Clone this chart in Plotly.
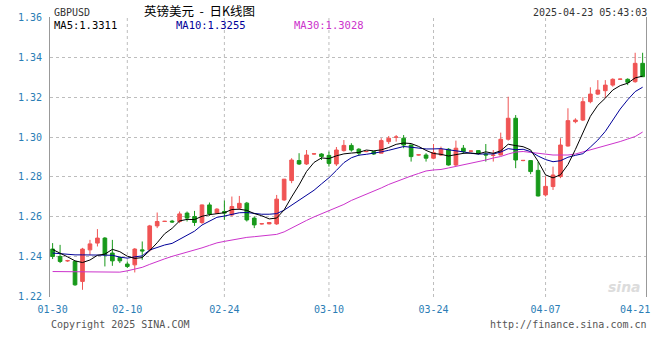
import plotly.graph_objects as go

# ---------------- data ----------------
opens = [1.2439, 1.2402, 1.2380, 1.2377, 1.2277, 1.2435, 1.2469, 1.2494, 1.2419, 1.2397,
         1.2364, 1.2360, 1.2435, 1.2435, 1.2555, 1.2577, 1.2579, 1.2577, 1.2619, 1.2602,
         1.2572, 1.2660, 1.2619, 1.2627, 1.2610, 1.2644, 1.2669, 1.2594, 1.2565, 1.2565,
         1.2565, 1.2685, 1.2782, 1.2882, 1.2865, 1.2915, 1.2915, 1.2908, 1.2865, 1.2932,
         1.2958, 1.2939, 1.2927, 1.2927, 1.2919, 1.2977, 1.2999, 1.2994, 1.2960, 1.2910,
         1.2910, 1.2894, 1.2910, 1.2939, 1.2860, 1.2944, 1.2929, 1.2932, 1.2915, 1.2908,
         1.2910, 1.2989, 1.3094, 1.2882, 1.2882, 1.2833, 1.2710, 1.2752, 1.2802, 1.2955,
         1.3077, 1.3085, 1.3177, 1.3215, 1.3232, 1.3260, 1.3289, 1.3289, 1.3277, 1.3369]
highs = [1.2469, 1.2460, 1.2385, 1.2380, 1.2445, 1.2485, 1.2539, 1.2499, 1.2485, 1.2402,
         1.2377, 1.2444, 1.2477, 1.2560, 1.2622, 1.2580, 1.2585, 1.2627, 1.2627, 1.2630,
         1.2662, 1.2672, 1.2644, 1.2682, 1.2702, 1.2705, 1.2675, 1.2602, 1.2568, 1.2574,
         1.2710, 1.2790, 1.2894, 1.2919, 1.2935, 1.2918, 1.2919, 1.2927, 1.2950, 1.2985,
         1.2969, 1.2944, 1.2930, 1.2930, 1.2994, 1.3005, 1.3010, 1.3010, 1.2962, 1.2913,
         1.2919, 1.2965, 1.2952, 1.2944, 1.2982, 1.2960, 1.2932, 1.2935, 1.2965, 1.2935,
         1.3022, 1.3202, 1.3110, 1.2885, 1.2885, 1.2877, 1.2803, 1.2852, 1.2994, 1.3144,
         1.3094, 1.3199, 1.3249, 1.3285, 1.3285, 1.3294, 1.3292, 1.3294, 1.3422, 1.3422]
lows = [1.2389, 1.2369, 1.2375, 1.2255, 1.2235, 1.2410, 1.2452, 1.2352, 1.2355, 1.2369,
        1.2344, 1.2322, 1.2385, 1.2427, 1.2544, 1.2575, 1.2570, 1.2569, 1.2577, 1.2555,
        1.2565, 1.2605, 1.2615, 1.2585, 1.2602, 1.2635, 1.2577, 1.2544, 1.2562, 1.2563,
        1.2560, 1.2680, 1.2769, 1.2860, 1.2860, 1.2912, 1.2885, 1.2852, 1.2855, 1.2927,
        1.2927, 1.2905, 1.2924, 1.2910, 1.2919, 1.2965, 1.2977, 1.2944, 1.2877, 1.2907,
        1.2877, 1.2889, 1.2905, 1.2857, 1.2855, 1.2915, 1.2926, 1.2912, 1.2877, 1.2877,
        1.2908, 1.2982, 1.2844, 1.2879, 1.2814, 1.2702, 1.2702, 1.2735, 1.2794, 1.2952,
        1.3069, 1.3080, 1.3169, 1.3210, 1.3194, 1.3252, 1.3286, 1.3260, 1.3272, 1.3302]
closes = [1.2402, 1.2377, 1.2381, 1.2260, 1.2439, 1.2465, 1.2494, 1.2410, 1.2380, 1.2380,
          1.2352, 1.2439, 1.2430, 1.2555, 1.2577, 1.2578, 1.2575, 1.2615, 1.2594, 1.2572,
          1.2660, 1.2615, 1.2639, 1.2619, 1.2652, 1.2668, 1.2585, 1.2560, 1.2566, 1.2572,
          1.2689, 1.2789, 1.2885, 1.2865, 1.2910, 1.2916, 1.2902, 1.2868, 1.2935, 1.2958,
          1.2935, 1.2919, 1.2928, 1.2915, 1.2982, 1.2994, 1.3000, 1.2960, 1.2902, 1.2911,
          1.2894, 1.2922, 1.2939, 1.2860, 1.2944, 1.2927, 1.2930, 1.2919, 1.2910, 1.2909,
          1.2989, 1.3094, 1.2885, 1.2883, 1.2827, 1.2705, 1.2753, 1.2810, 1.2960, 1.3082,
          1.3085, 1.3177, 1.3215, 1.3235, 1.3260, 1.3289, 1.3290, 1.3274, 1.3369, 1.3302]

ma5 = [1.2437, 1.2420, 1.2400, 1.2380, 1.23716, 1.23842, 1.24076, 1.24136, 1.24376, 1.24258,
       1.24032, 1.23922, 1.23962, 1.24312, 1.24706, 1.25156, 1.25428, 1.25798, 1.25876, 1.25866,
       1.26032, 1.26112, 1.2616, 1.2621, 1.2637, 1.26386, 1.26326, 1.26168, 1.2606, 1.2590,
       1.25942, 1.2635, 1.2700, 1.2760, 1.28276, 1.28728, 1.28954, 1.2892, 1.2906, 1.29156,
       1.29196, 1.2923, 1.29348, 1.29308, 1.29356, 1.29474, 1.29634, 1.2970, 1.29674, 1.2953,
       1.2933, 1.29176, 1.29134, 1.2905, 1.29118, 1.29184, 1.29198, 1.29158, 1.29258, 1.29186,
       1.2931, 1.2964, 1.29572, 1.29516, 1.29354, 1.28786, 1.28104, 1.27954, 1.2811, 1.2862,
       1.2938, 1.30228, 1.31038, 1.31588, 1.31944, 1.32352, 1.32576, 1.32694, 1.32962, 1.33046]
ma10 = [1.2419, 1.2415, 1.2413, 1.2410, 1.2410, 1.2410, 1.2410, 1.2410, 1.2408, 1.23987,
        1.23937, 1.23999, 1.24049, 1.24344, 1.24482, 1.24594, 1.24675, 1.2488, 1.25094, 1.25286,
        1.25594, 1.2577, 1.25979, 1.26043, 1.26118, 1.26209, 1.26219, 1.26164, 1.26135, 1.26135,
        1.26164, 1.26338, 1.26584, 1.2683, 1.27088, 1.27335, 1.27652, 1.2796, 1.2833, 1.28716,
        1.28962, 1.29092, 1.29134, 1.29184, 1.29256, 1.29335, 1.29432, 1.29524, 1.29491, 1.29443,
        1.29402, 1.29405, 1.29417, 1.29362, 1.29324, 1.29257, 1.29187, 1.29146, 1.29154, 1.29152,
        1.29247, 1.29419, 1.29365, 1.29387, 1.2927, 1.29048, 1.28872, 1.28763, 1.28813, 1.28987,
        1.29083, 1.29166, 1.29496, 1.29849, 1.30282, 1.30866, 1.31402, 1.31866, 1.32275, 1.32495]
ma30 = [1.23265, 1.2326, 1.2325, 1.2324, 1.2323, 1.23225, 1.2322, 1.23215, 1.2322, 1.23235,
        1.2330, 1.23375, 1.23475, 1.23625, 1.23775, 1.2390, 1.24025, 1.24125, 1.24225, 1.24325,
        1.2445, 1.24575, 1.2470, 1.24775, 1.2485, 1.24925, 1.24975, 1.2501, 1.2504, 1.25075,
        1.25125, 1.2525, 1.2545, 1.2565, 1.25825, 1.2600, 1.2615, 1.2630, 1.2645, 1.26625,
        1.26825, 1.26975, 1.27125, 1.2730, 1.2745, 1.27625, 1.27775, 1.27925, 1.2805, 1.28175,
        1.2830, 1.2835, 1.28375, 1.2845, 1.28525, 1.2860, 1.28675, 1.2875, 1.2885, 1.2895,
        1.29025, 1.2915, 1.2925, 1.29275, 1.29225, 1.29175, 1.29125, 1.2910, 1.2910, 1.2910,
        1.2915, 1.2925, 1.29375, 1.29475, 1.29575, 1.29675, 1.29775, 1.2990, 1.30025, 1.3025]

tick_idx = [0, 10, 23, 37, 51, 66, 78]
tick_labels = ["01-30", "02-10", "02-24", "03-10", "03-24", "04-07", "04-21"]
y_ticks = [1.22, 1.24, 1.26, 1.28, 1.30, 1.32, 1.34, 1.36]

title_cn = "英镑美元\u00a0\u00a0-\u00a0\u00a0日K线图"
symbol = "GBPUSD"
stamp = "2025-04-23 05:43:03"
legend_ma = [("MA5:1.3311", "#000000"), ("MA10:1.3255", "#000099"), ("MA30:1.3028", "#cc33cc")]

# ---------------- figure ----------------
RED = "#f05454"
GREEN = "#17991a"
MONO = "DejaVu Sans Mono"
AXC = "#2a7db5"

xs = list(range(len(closes)))

fig = go.Figure()
fig.add_trace(go.Candlestick(
    x=xs, open=opens, high=highs, low=lows, close=closes,
    increasing=dict(line=dict(color=RED, width=1), fillcolor=RED),
    decreasing=dict(line=dict(color=GREEN, width=1), fillcolor=GREEN),
    whiskerwidth=0, hoverinfo="skip", showlegend=False))
for vals, col in [(ma30, "#cc33cc"), (ma10, "#000099"), (ma5, "#000000")]:
    fig.add_trace(go.Scatter(x=xs, y=vals, mode="lines",
                             line=dict(color=col, width=1), hoverinfo="skip",
                             showlegend=False))

L, R, T, B = 50, 650, 17, 297
W, H = 660, 360


def px(xp):
    return (xp - L) / (R - L)


def py(yp):
    return (B - yp) / (B - T)


shapes = []
for t in tick_idx[1:-1]:
    shapes.append(dict(type="line", xref="x", yref="paper", x0=t, x1=t, y0=0, y1=1,
                       line=dict(color="#bdbdbd", width=1, dash="dot"), layer="below"))

ann = []
ann.append(dict(text=symbol, x=px(52), y=py(12), xanchor="left", yanchor="middle",
                font=dict(family=MONO, size=10, color="#333333")))
ann.append(dict(text=title_cn, x=px(201), y=py(10), xanchor="center", yanchor="middle",
                font=dict(family="Noto Sans CJK SC", size=12.5, color="#000000")))
ann.append(dict(text=stamp, x=px(653), y=py(12), xanchor="right", yanchor="middle",
                font=dict(family=MONO, size=10, color="#333333")))
for (txt, col), xl in zip(legend_ma, [52, 175, 294]):
    ann.append(dict(text=txt, x=px(xl), y=py(24.5), xanchor="left", yanchor="middle",
                    font=dict(family=MONO, size=10.5, color=col)))
ann.append(dict(text="Copyright 2025 SINA.COM", x=px(49), y=py(324), xanchor="left",
                yanchor="middle", font=dict(family=MONO, size=10, color="#555555")))
ann.append(dict(text="http://finance.sina.com.cn", x=px(653), y=py(324), xanchor="right",
                yanchor="middle", font=dict(family=MONO, size=10, color="#555555")))
ann.append(dict(text="<b><i>sina</i></b>", x=px(628), y=py(287), xanchor="center",
                yanchor="middle", font=dict(family="DejaVu Sans", size=14, color="#dcdcdc")))
for a in ann:
    a.update(xref="paper", yref="paper", showarrow=False)

fig.update_layout(
    width=W, height=H, margin=dict(l=L, r=W - R, t=T, b=H - B),
    paper_bgcolor="white", plot_bgcolor="white",
    shapes=shapes, annotations=ann, showlegend=False,
    xaxis=dict(range=[-0.35, 79.45], tickvals=tick_idx, ticktext=tick_labels,
               showgrid=False, zeroline=False, showline=False, ticks="",
               tickfont=dict(family=MONO, size=10, color=AXC),
               rangeslider=dict(visible=False), fixedrange=True, ticklabelstandoff=5),
    yaxis=dict(range=[1.2199, 1.3601], tickvals=y_ticks,
               ticktext=["%.2f" % v for v in y_ticks],
               showgrid=True, gridcolor="#bdbdbd", griddash="dot", gridwidth=1,
               zeroline=False, showline=True, mirror=True, linecolor="#999999", linewidth=1,
               ticks="", tickfont=dict(family=MONO, size=10, color=AXC),
               ticklabelstandoff=5, fixedrange=True),
)

fig.write_html("out.html")
